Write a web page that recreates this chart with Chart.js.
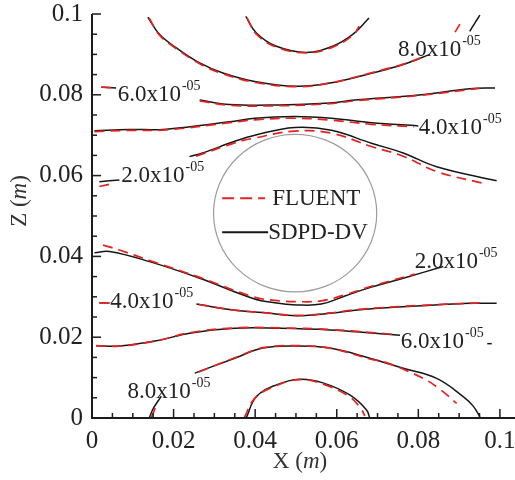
<!DOCTYPE html>
<html>
<head>
<meta charset="utf-8">
<script src="https://cdn.jsdelivr.net/npm/chart.js@4.4.1/dist/chart.umd.min.js"></script>
<style>
  html, body { margin: 0; padding: 0; background: #fff; }
  #wrap { width: 515px; height: 480px; }
</style>
</head>
<body>
<div id="wrap"><canvas id="contour-chart" width="515" height="480"></canvas></div>
<script>
  // Axis ticks (metres)
  const xTickValues = [0, 0.02, 0.04, 0.06, 0.08, 0.1];
  const zTickValues = [0, 0.02, 0.04, 0.06, 0.08, 0.1];
  const tickLabels = ['0', '0.02', '0.04', '0.06', '0.08', '0.1'];
  const seriesNames = ['FLUENT', 'SDPD-DV'];

  // Cylinder outline: centre and radii (m)
  const cylinder = { x: 0.0498, z: 0.0507, rx: 0.02, rz: 0.0195 };

  // SDPD-DV contour lines, [x, z]
  const sdpd8Upper = [[0.0137, 0.0992], [0.0166, 0.0949], [0.0207, 0.0916], [0.0264, 0.0879], [0.0321, 0.0854], [0.0399, 0.0833], [0.0501, 0.0821], [0.0583, 0.0829], [0.0687, 0.0854], [0.0763, 0.0875], [0.0828, 0.0900]];
  const sdpd8UpperTip = [[0.0926, 0.0957], [0.0940, 0.0980], [0.0951, 0.0997]];
  const sdpdCapTop = [[0.0377, 0.0994], [0.0403, 0.0953], [0.0452, 0.0920], [0.0525, 0.0905], [0.0590, 0.0920], [0.0640, 0.0950], [0.0679, 0.0990]];
  const sdpd6UpperLeft = [[0.0023, 0.0819], [0.0059, 0.0817]];
  const sdpd6Upper = [[0.0264, 0.0787], [0.0337, 0.0776], [0.0460, 0.0775], [0.0583, 0.0780], [0.0644, 0.0787], [0.0808, 0.0800], [0.0926, 0.0815], [0.0988, 0.0817]];
  const sdpd4Upper = [[0.0006, 0.0711], [0.0091, 0.0714], [0.0182, 0.0715], [0.0337, 0.0733], [0.0399, 0.0742], [0.0497, 0.0746], [0.0587, 0.0742], [0.0685, 0.0731], [0.0800, 0.0723]];
  const sdpd2UpperLeft = [[0.0018, 0.0585], [0.0067, 0.0589]];
  const sdpd2Upper = [[0.0239, 0.0647], [0.0271, 0.0656], [0.0350, 0.0685], [0.0399, 0.0700], [0.0497, 0.0719], [0.0587, 0.0712], [0.0685, 0.0680], [0.0763, 0.0656], [0.0845, 0.0622], [0.0992, 0.0587]];
  const sdpd2Lower = [[0.0006, 0.0409], [0.0043, 0.0412], [0.0141, 0.0387], [0.0264, 0.0346], [0.0395, 0.0296], [0.0448, 0.0285], [0.0501, 0.0280], [0.0562, 0.0282], [0.0620, 0.0302], [0.0685, 0.0324], [0.0763, 0.0346], [0.0861, 0.0375]];
  const sdpd4LowerLeft = [[0.0018, 0.0285], [0.0043, 0.0285]];
  const sdpd4Lower = [[0.0256, 0.0282], [0.0350, 0.0267], [0.0419, 0.0261], [0.0501, 0.0253], [0.0583, 0.0259], [0.0644, 0.0267], [0.0693, 0.0271], [0.0808, 0.0278], [0.0926, 0.0284], [0.0992, 0.0284]];
  const sdpd6Lower = [[0.0010, 0.0179], [0.0067, 0.0178], [0.0158, 0.0191], [0.0239, 0.0210], [0.0350, 0.0222], [0.0460, 0.0222], [0.0583, 0.0218], [0.0693, 0.0210], [0.0755, 0.0205]];
  const sdpd6LowerTip = [[0.0969, 0.0184], [0.0980, 0.0184]];
  const sdpd8Lower = [[0.0252, 0.0111], [0.0350, 0.0148], [0.0419, 0.0173], [0.0501, 0.0178], [0.0583, 0.0173], [0.0681, 0.0148], [0.0763, 0.0123], [0.0845, 0.0098], [0.0910, 0.0053], [0.0934, 0.0030], [0.0951, 0.0003]];
  const sdpdCapBottom = [[0.0378, 0.0000], [0.0403, 0.0053], [0.0452, 0.0082], [0.0509, 0.0096], [0.0566, 0.0087], [0.0632, 0.0057], [0.0673, 0.0020], [0.0681, 0.0000]];
  const sdpd8Corner = [[0.0141, 0.0002], [0.0151, 0.0025], [0.0170, 0.0054]];

  // FLUENT contour lines, [x, z]
  const fluent8Upper = [[0.0140, 0.0990], [0.0166, 0.0947], [0.0207, 0.0914], [0.0264, 0.0877], [0.0321, 0.0852], [0.0399, 0.0831], [0.0501, 0.0820], [0.0583, 0.0829], [0.0687, 0.0855], [0.0763, 0.0876], [0.0820, 0.0897]];
  const fluent8UpperTip = [[0.0890, 0.0955], [0.0902, 0.0975]];
  const fluentCapTop = [[0.0380, 0.0990], [0.0403, 0.0950], [0.0452, 0.0918], [0.0525, 0.0904], [0.0590, 0.0918], [0.0640, 0.0948], [0.0655, 0.0970]];
  const fluent6UpperLeft = [[0.0023, 0.0819], [0.0059, 0.0817]];
  const fluent6Upper = [[0.0264, 0.0785], [0.0337, 0.0774], [0.0460, 0.0773], [0.0583, 0.0778], [0.0644, 0.0785], [0.0808, 0.0799], [0.0950, 0.0816]];
  const fluent4Upper = [[0.0006, 0.0709], [0.0091, 0.0712], [0.0182, 0.0713], [0.0337, 0.0731], [0.0399, 0.0738], [0.0497, 0.0742], [0.0587, 0.0737], [0.0685, 0.0727], [0.0790, 0.0721]];
  const fluent2UpperLeft = [[0.0018, 0.0573], [0.0055, 0.0581]];
  const fluent2Upper = [[0.0255, 0.0648], [0.0350, 0.0681], [0.0399, 0.0693], [0.0497, 0.0710], [0.0587, 0.0705], [0.0685, 0.0672], [0.0763, 0.0648], [0.0845, 0.0610], [0.0955, 0.0582]];
  const fluent2Lower = [[0.0027, 0.0428], [0.0067, 0.0416], [0.0141, 0.0390], [0.0264, 0.0348], [0.0395, 0.0300], [0.0448, 0.0291], [0.0501, 0.0288], [0.0562, 0.0290], [0.0620, 0.0305], [0.0685, 0.0326], [0.0791, 0.0356]];
  const fluent4LowerLeft = [[0.0018, 0.0285], [0.0043, 0.0285]];
  const fluent4Lower = [[0.0262, 0.0281], [0.0350, 0.0267], [0.0419, 0.0261], [0.0501, 0.0254], [0.0583, 0.0260], [0.0644, 0.0268], [0.0693, 0.0272], [0.0808, 0.0279], [0.0955, 0.0285]];
  const fluent6Lower = [[0.0010, 0.0179], [0.0067, 0.0178], [0.0158, 0.0191], [0.0239, 0.0211], [0.0350, 0.0223], [0.0460, 0.0223], [0.0583, 0.0219], [0.0693, 0.0211], [0.0750, 0.0206]];
  const fluent8Lower = [[0.0262, 0.0114], [0.0350, 0.0149], [0.0419, 0.0174], [0.0501, 0.0179], [0.0583, 0.0173], [0.0681, 0.0146], [0.0722, 0.0137], [0.0812, 0.0098], [0.0853, 0.0071], [0.0894, 0.0036]];
  const fluentCapBottom = [[0.0373, 0.0000], [0.0400, 0.0050], [0.0452, 0.0080], [0.0509, 0.0095], [0.0566, 0.0084], [0.0632, 0.0052], [0.0660, 0.0022], [0.0669, 0.0005]];
  const fluent8Corner = [[0.0146, 0.0002], [0.0160, 0.0037]];

  // Contour level labels, anchored at the left end of the text baseline
  const levelMarks = [
    { text: '6.0x10', x: 0.0063, z: 0.0785 },
    { text: '8.0x10', x: 0.0750, z: 0.0895 },
    { text: '4.0x10', x: 0.0801, z: 0.0703 },
    { text: '2.0x10', x: 0.0072, z: 0.0585 },
    { text: '2.0x10', x: 0.0791, z: 0.0371 },
    { text: '4.0x10', x: 0.0045, z: 0.0272 },
    { text: '6.0x10', x: 0.0757, z: 0.0173 },
    { text: '8.0x10', x: 0.0087, z: 0.0049 }
  ];
  const levelExponent = '-05';

  const solidLines = [sdpd8Upper, sdpd8UpperTip, sdpdCapTop, sdpd6UpperLeft, sdpd6Upper, sdpd4Upper, sdpd2UpperLeft, sdpd2Upper,
    sdpd2Lower, sdpd4LowerLeft, sdpd4Lower, sdpd6Lower, sdpd6LowerTip, sdpd8Lower, sdpdCapBottom, sdpd8Corner];
  const dashedLines = [fluent8Upper, fluent8UpperTip, fluentCapTop, fluent6UpperLeft, fluent6Upper, fluent4Upper, fluent2UpperLeft, fluent2Upper,
    fluent2Lower, fluent4LowerLeft, fluent4Lower, fluent6Lower, fluent8Lower, fluentCapBottom, fluent8Corner];

  const RED = '#e3231f';
  const INK = '#161616';
  const SERIF = '"Liberation Serif", "Times New Roman", serif';

  function toPoints(list) {
    return list.map(p => ({ x: p[0], y: p[1] }));
  }

  const datasets = [];
  dashedLines.forEach(line => {
    datasets.push({
      label: seriesNames[0],
      data: toPoints(line),
      showLine: true,
      borderColor: RED,
      borderWidth: 1.7,
      borderDash: [10, 6],
      pointRadius: 0,
      tension: 0.4,
      fill: false,
      order: 0
    });
  });
  solidLines.forEach(line => {
    datasets.push({
      label: seriesNames[1],
      data: toPoints(line),
      showLine: true,
      borderColor: INK,
      borderWidth: 1.5,
      pointRadius: 0,
      tension: 0.4,
      fill: false,
      order: 1
    });
  });

  function tickText(values) {
    return function (value) {
      const i = values.findIndex(v => Math.abs(v - value) < 1e-9);
      return i >= 0 ? tickLabels[i] : '';
    };
  }

  // Axis title with an italic unit
  function drawTitle(ctx, cx, cy, name) {
    const upright = '23px ' + SERIF;
    const slanted = 'italic 23px ' + SERIF;
    ctx.font = upright;
    const a = ctx.measureText(name + ' (').width;
    const c = ctx.measureText(')').width;
    ctx.font = slanted;
    const b = ctx.measureText('m').width;
    let px = cx - (a + b + c) / 2;
    ctx.textAlign = 'left';
    ctx.textBaseline = 'middle';
    ctx.font = upright;
    ctx.fillText(name + ' (', px, cy);
    px += a;
    ctx.font = slanted;
    ctx.fillText('m', px, cy);
    px += b;
    ctx.font = upright;
    ctx.fillText(')', px, cy);
  }

  const contourFrame = {
    id: 'contourFrame',
    beforeDatasetsDraw(chart) {
      const { ctx, scales: { x, y } } = chart;
      const cx = x.getPixelForValue(cylinder.x);
      const cy = y.getPixelForValue(cylinder.z);
      const rx = x.getPixelForValue(cylinder.x + cylinder.rx) - cx;
      const ry = cy - y.getPixelForValue(cylinder.z + cylinder.rz);
      ctx.save();
      ctx.beginPath();
      ctx.ellipse(cx, cy, rx, ry, 0, 0, Math.PI * 2);
      ctx.strokeStyle = '#9c9c9c';
      ctx.lineWidth = 1.2;
      ctx.stroke();
      ctx.restore();
    },
    afterDraw(chart) {
      const { ctx, scales: { x, y } } = chart;
      const left = x.getPixelForValue(0);
      const bottom = y.getPixelForValue(0);
      const top = y.getPixelForValue(0.1);

      ctx.save();
      // axis lines
      ctx.strokeStyle = '#1c1c1c';
      ctx.lineWidth = 2;
      ctx.beginPath();
      ctx.moveTo(left, top);
      ctx.lineTo(left, bottom);
      ctx.lineTo(chart.width, bottom);
      ctx.stroke();

      // major and minor ticks, pointing inwards
      ctx.lineWidth = 1.5;
      for (let i = 0; i <= 20; i++) {
        const v = i * 0.005;
        const len = i % 4 === 0 ? 9 : 5;
        const py = y.getPixelForValue(v);
        ctx.beginPath();
        ctx.moveTo(left, py);
        ctx.lineTo(left + len, py);
        ctx.stroke();
        const px = x.getPixelForValue(v);
        ctx.beginPath();
        ctx.moveTo(px, bottom);
        ctx.lineTo(px, bottom - len);
        ctx.stroke();
      }

      // axis titles
      ctx.fillStyle = '#333';
      drawTitle(ctx, 300, 462, 'X');
      ctx.save();
      ctx.translate(20, 201);
      ctx.rotate(-Math.PI / 2);
      drawTitle(ctx, 0, 0, 'Z');
      ctx.restore();

      // contour level labels
      ctx.fillStyle = '#222';
      ctx.textAlign = 'left';
      ctx.textBaseline = 'alphabetic';
      levelMarks.forEach(m => {
        const px = x.getPixelForValue(m.x);
        const py = y.getPixelForValue(m.z);
        ctx.font = '23px ' + SERIF;
        ctx.fillText(m.text, px, py);
        const w = ctx.measureText(m.text).width;
        ctx.font = '14px ' + SERIF;
        ctx.fillText(levelExponent, px + w + 1, py - 11);
      });

      // legend inside the cylinder
      const cx = x.getPixelForValue(cylinder.x);
      const cy = y.getPixelForValue(cylinder.z);
      ctx.lineWidth = 2;
      ctx.strokeStyle = RED;
      ctx.setLineDash([12, 6]);
      ctx.beginPath();
      ctx.moveTo(cx - 73, cy - 15);
      ctx.lineTo(cx - 30, cy - 15);
      ctx.stroke();
      ctx.setLineDash([]);
      ctx.strokeStyle = INK;
      ctx.beginPath();
      ctx.moveTo(cx - 73, cy + 19);
      ctx.lineTo(cx - 27, cy + 19);
      ctx.stroke();
      ctx.font = '23px ' + SERIF;
      ctx.textBaseline = 'middle';
      ctx.fillStyle = '#222';
      ctx.fillText(seriesNames[0], cx - 23, cy - 14);
      ctx.fillText(seriesNames[1], cx - 27, cy + 20);
      ctx.restore();
    }
  };

  new Chart(document.getElementById('contour-chart'), {
    type: 'scatter',
    data: { datasets: datasets },
    options: {
      responsive: false,
      animation: false,
      devicePixelRatio: 1,
      layout: { padding: { top: 14, right: 0, bottom: 0, left: 0 } },
      plugins: {
        legend: { display: false },
        tooltip: { enabled: false }
      },
      scales: {
        x: {
          type: 'linear',
          min: 0,
          max: 0.1037,
          grid: { display: false, drawTicks: false },
          border: { display: false },
          afterBuildTicks: s => { s.ticks = xTickValues.map(v => ({ value: v })); },
          afterFit: s => {
            s.height = 62;
            s.paddingLeft = 0;
            s.paddingRight = 0;
          },
          ticks: {
            autoSkip: false,
            maxRotation: 0,
            padding: 8,
            color: '#222',
            font: { family: SERIF, size: 25 },
            callback: tickText(xTickValues)
          }
        },
        y: {
          type: 'linear',
          min: 0,
          max: 0.1,
          grid: { display: false, drawTicks: false },
          border: { display: false },
          afterBuildTicks: s => { s.ticks = zTickValues.map(v => ({ value: v })); },
          afterFit: s => {
            s.width = 92;
            s.paddingTop = 0;
            s.paddingBottom = 0;
          },
          ticks: {
            autoSkip: false,
            padding: 9,
            color: '#222',
            font: { family: SERIF, size: 25 },
            callback: tickText(zTickValues)
          }
        }
      }
    },
    plugins: [contourFrame]
  });
</script>
</body>
</html>
